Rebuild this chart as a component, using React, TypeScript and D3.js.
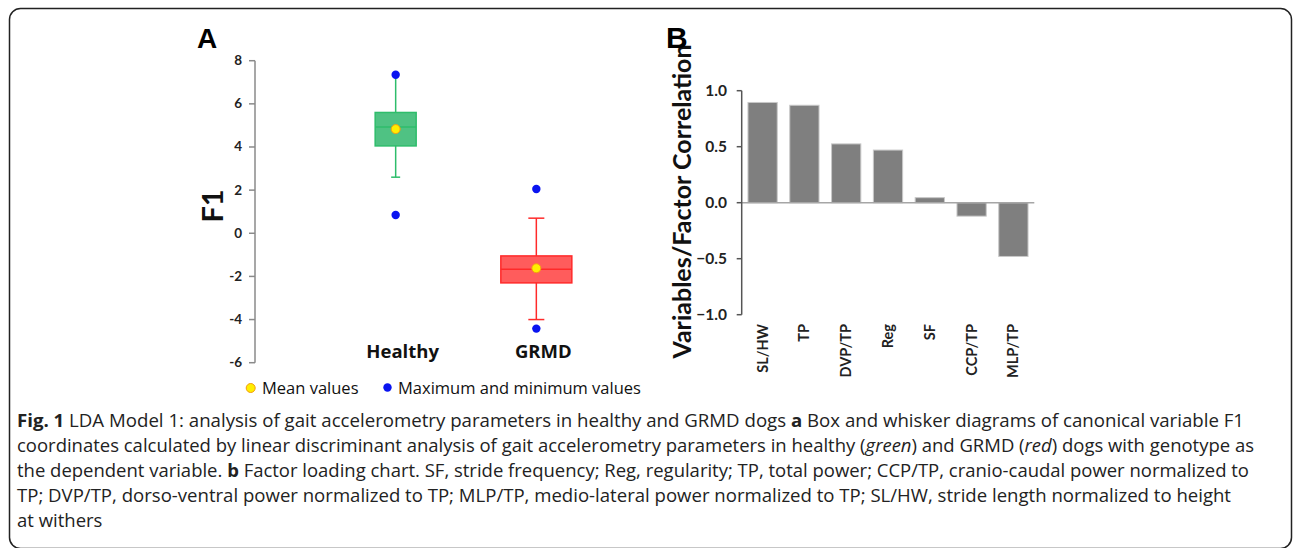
import { useEffect, useRef } from 'react';
import * as d3 from 'd3';

// panel A: box plots of F1
const groups = ['Healthy', 'GRMD'];
const q1Values = [4.05, -2.3];
const q3Values = [5.6, -1.05];
const medianValues = [4.93, -1.67];
const meanValues = [4.83, -1.62];
const whiskerLow = [2.6, -4.0];
const whiskerHigh = [7.35, 0.7];
const minValues = [0.85, -4.42];
const maxValues = [7.35, 2.05];
const f1Ticks = [-6, -4, -2, 0, 2, 4, 6, 8];

// panel B: factor loadings
const variables = ['SL/HW', 'TP', 'DVP/TP', 'Reg', 'SF', 'CCP/TP', 'MLP/TP'];
const loadings = [0.895, 0.87, 0.525, 0.47, 0.045, -0.12, -0.48];
const loadingTicks = [-1, -0.5, 0, 0.5, 1];

const captionLines: [string, string][][] = [
  [['b', 'Fig. 1'], ['n', ' LDA Model 1: analysis of gait accelerometry parameters in healthy and GRMD dogs '], ['b', 'a'], ['n', ' Box and whisker diagrams of canonical variable F1']],
  [['n', 'coordinates calculated by linear discriminant analysis of gait accelerometry parameters in healthy ('], ['i', 'green'], ['n', ') and GRMD ('], ['i', 'red'], ['n', ') dogs with genotype as']],
  [['n', 'the dependent variable. '], ['b', 'b'], ['n', ' Factor loading chart. SF, stride frequency; Reg, regularity; TP, total power; CCP/TP, cranio-caudal power normalized to']],
  [['n', 'TP; DVP/TP, dorso-ventral power normalized to TP; MLP/TP, medio-lateral power normalized to TP; SL/HW, stride length normalized to height']],
  [['n', 'at withers']],
];
// measured widths of the full caption lines (last one left natural)
const captionWidths = [1227, 1237, 1232, 1214, 0];

const W = 1295;
const H = 548;
const boxColors = [
  { fill: '#4fc283', stroke: '#2ebd6b' },
  { fill: '#ff5c5c', stroke: '#ff2a2a' },
];
const boxWidths = [41, 71];
const capWidths = [9, 16];
const chartFont = 'Lato, "DejaVu Sans", sans-serif';
const textFont = '"Open Sans", sans-serif';

export default function App() {
  const svgRef = useRef<SVGSVGElement>(null);

  useEffect(() => {
    if (!svgRef.current) return;
    const svg = d3.select(svgRef.current);
    svg.selectAll('*').remove();

    // frame
    svg.append('rect')
      .attr('x', 9.5).attr('y', 8.5)
      .attr('width', 1282).attr('height', 540)
      .attr('rx', 11)
      .attr('fill', 'none')
      .attr('stroke', '#222')
      .attr('stroke-width', 1.5);

    // ---------- panel A ----------
    const axA = 255;
    const yA = d3.scaleLinear().domain([-6, 8]).range([362.7, 60.7]);
    const xA = d3.scalePoint<string>().domain(groups).range([axA, 677]).padding(1);
    const gA = svg.append('g');

    gA.append('line')
      .attr('x1', axA).attr('x2', axA)
      .attr('y1', yA(8)).attr('y2', yA(-6))
      .attr('stroke', '#8a8a8a').attr('stroke-width', 1.5);
    f1Ticks.forEach((t) => {
      gA.append('line')
        .attr('x1', axA - 6).attr('x2', axA)
        .attr('y1', yA(t)).attr('y2', yA(t))
        .attr('stroke', '#8a8a8a').attr('stroke-width', 1.5);
      gA.append('text')
        .attr('x', 242).attr('y', yA(t) + 4.5)
        .attr('text-anchor', 'end')
        .attr('font-family', chartFont).attr('font-weight', 700)
        .attr('font-size', 13.5).attr('fill', '#222')
        .text(t);
    });

    gA.append('text')
      .attr('transform', `translate(223, 206) rotate(-90)`)
      .attr('text-anchor', 'middle')
      .attr('font-family', chartFont).attr('font-weight', 700)
      .attr('font-size', 29).attr('fill', '#111')
      .text('F1');

    gA.append('text')
      .attr('x', 197).attr('y', 48)
      .attr('font-family', '"Liberation Sans", Arial, sans-serif').attr('font-weight', 700)
      .attr('font-size', 28).attr('fill', '#000')
      .text('A');

    groups.forEach((gName, i) => {
      const cx = xA(gName)!;
      const bw = boxWidths[i];
      const cw = capWidths[i];
      const col = boxColors[i];
      // whiskers
      gA.append('line')
        .attr('x1', cx).attr('x2', cx)
        .attr('y1', yA(whiskerHigh[i])).attr('y2', yA(whiskerLow[i]))
        .attr('stroke', col.stroke).attr('stroke-width', 1.5);
      [whiskerLow[i], whiskerHigh[i]].forEach((w) => {
        if (Math.abs(w - maxValues[i]) < 0.1 || Math.abs(w - minValues[i]) < 0.1) return;
        gA.append('line')
          .attr('x1', cx - cw / 2).attr('x2', cx + cw / 2)
          .attr('y1', yA(w)).attr('y2', yA(w))
          .attr('stroke', col.stroke).attr('stroke-width', 1.5);
      });
      gA.append('rect')
        .attr('x', cx - bw / 2).attr('y', yA(q3Values[i]))
        .attr('width', bw).attr('height', yA(q1Values[i]) - yA(q3Values[i]))
        .attr('fill', col.fill).attr('stroke', col.stroke).attr('stroke-width', 1.5);
      gA.append('line')
        .attr('x1', cx - bw / 2).attr('x2', cx + bw / 2)
        .attr('y1', yA(medianValues[i])).attr('y2', yA(medianValues[i]))
        .attr('stroke', col.stroke).attr('stroke-width', 1.5);
      [minValues[i], maxValues[i]].forEach((v) => {
        gA.append('circle')
          .attr('cx', cx).attr('cy', yA(v)).attr('r', 4.2)
          .attr('fill', '#0a14f0');
      });
      gA.append('circle')
        .attr('cx', cx).attr('cy', yA(meanValues[i])).attr('r', 4.5)
        .attr('fill', '#ffee00').attr('stroke', '#f39c12').attr('stroke-width', 1);

      gA.append('text')
        .attr('x', cx + 7).attr('y', 358)
        .attr('text-anchor', 'middle')
        .attr('font-family', textFont).attr('font-weight', 700)
        .attr('font-size', 18.5).attr('fill', '#111')
        .text(gName);
    });

    // legend
    const leg = gA.append('g');
    leg.append('circle').attr('cx', 250.7).attr('cy', 388).attr('r', 4.5)
      .attr('fill', '#ffee00').attr('stroke', '#f39c12').attr('stroke-width', 1);
    leg.append('text').attr('x', 262).attr('y', 394)
      .attr('font-family', textFont).attr('font-size', 16.5).attr('fill', '#111')
      .text('Mean values');
    leg.append('circle').attr('cx', 387.5).attr('cy', 387.5).attr('r', 4.2)
      .attr('fill', '#0a14f0');
    leg.append('text').attr('x', 398).attr('y', 394)
      .attr('font-family', textFont).attr('font-size', 16.5).attr('fill', '#111')
      .text('Maximum and minimum values');

    // ---------- panel B ----------
    const axB = 741.7;
    const yB = d3.scaleLinear().domain([-1, 1]).range([314.7, 90.7]);
    const xB = d3.scaleBand<string>().domain(variables).range([axB, 1034.3])
      .paddingInner(0.3).paddingOuter(0.15);
    const gB = svg.append('g');

    gB.selectAll('.bar')
      .data(variables)
      .enter()
      .append('rect')
      .attr('x', (d) => xB(d)!)
      .attr('width', xB.bandwidth())
      .attr('y', (_, i) => yB(Math.max(0, loadings[i])))
      .attr('height', (_, i) => Math.abs(yB(loadings[i]) - yB(0)))
      .attr('fill', '#7f7f7f')
      .attr('stroke', '#c8c8c8')
      .attr('stroke-width', 1);

    gB.append('line')
      .attr('x1', axB).attr('x2', 1034.3)
      .attr('y1', yB(0)).attr('y2', yB(0))
      .attr('stroke', '#a6a6a6').attr('stroke-width', 1.5);
    gB.append('line')
      .attr('x1', axB).attr('x2', axB)
      .attr('y1', yB(1)).attr('y2', yB(-1))
      .attr('stroke', '#555').attr('stroke-width', 1.5);
    loadingTicks.forEach((t) => {
      gB.append('line')
        .attr('x1', axB - 5).attr('x2', axB)
        .attr('y1', yB(t)).attr('y2', yB(t))
        .attr('stroke', '#555').attr('stroke-width', 1.5);
      gB.append('text')
        .attr('x', 727).attr('y', yB(t) + 5.5)
        .attr('text-anchor', 'end')
        .attr('font-family', chartFont).attr('font-weight', 700)
        .attr('font-size', 15.5).attr('fill', '#222')
        .text(d3.format('.1f')(t));
    });

    variables.forEach((v) => {
      const cx = xB(v)! + xB.bandwidth() / 2;
      gB.append('text')
        .attr('transform', `translate(${cx + 5}, 324) rotate(-90)`)
        .attr('text-anchor', 'end')
        .attr('font-family', chartFont).attr('font-weight', 700)
        .attr('font-size', 14.5).attr('fill', '#222')
        .text(v);
    });

    gB.append('text')
      .attr('transform', `translate(691, 201.5) rotate(-90)`)
      .attr('text-anchor', 'middle')
      .attr('font-family', chartFont).attr('font-weight', 700)
      .attr('font-size', 25).attr('fill', '#111')
      .text('Variables/Factor Correlation');

    gB.append('text')
      .attr('x', 666).attr('y', 48)
      .attr('font-family', '"Liberation Sans", Arial, sans-serif').attr('font-weight', 700)
      .attr('font-size', 30).attr('fill', '#000')
      .text('B');

    // ---------- caption ----------
    captionLines.forEach((line, li) => {
      const t = svg.append('text')
        .attr('x', 17).attr('y', 427 + li * 25)
        .attr('font-family', textFont).attr('font-size', 18.5)
        .attr('fill', '#222');
      if (captionWidths[li] > 0) {
        t.attr('textLength', captionWidths[li]).attr('lengthAdjust', 'spacingAndGlyphs');
      }
      line.forEach(([style, str]) => {
        t.append('tspan')
          .attr('font-weight', style === 'b' ? 700 : 400)
          .attr('font-style', style === 'i' ? 'italic' : 'normal')
          .text(str);
      });
    });
  }, []);

  return (
    <svg
      ref={svgRef}
      width={W}
      height={H}
      style={{ position: 'absolute', left: 0, top: 0, background: '#fff' }}
    />
  );
}
